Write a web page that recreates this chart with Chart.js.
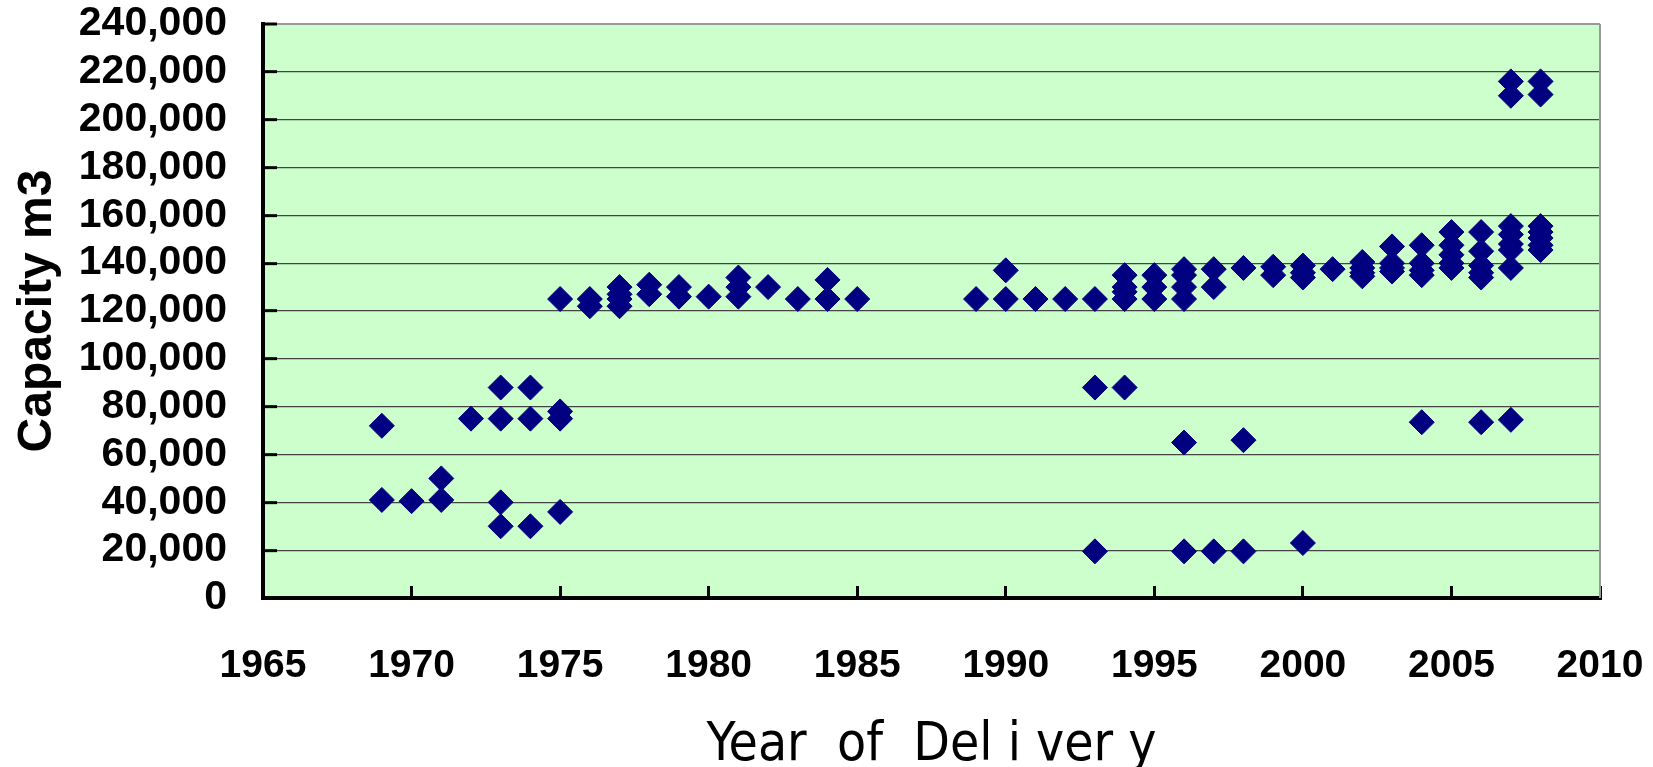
<!DOCTYPE html>
<html>
<head>
<meta charset="utf-8">
<title>Capacity m3 by Year of Delivery</title>
<script src="https://cdn.jsdelivr.net/npm/chart.js@4.4.1/dist/chart.umd.min.js"></script>
<style>
  html,body{margin:0;padding:0;background:#fff;}
  #wrap{width:1653px;height:767px;position:relative;}
</style>
</head>
<body>
<div id="wrap"><canvas id="capChart"></canvas></div>
<script>
// ===============================
// DATA
// ===============================
const deliveryYear = [
  1969,1969, 1970, 1971,1971, 1972,
  1973,1973,1973,1973, 1974,1974,1974,
  1975,1975,1975,1975, 1976,1976,
  1977,1977,1977,1977, 1978,1978, 1979,1979, 1980,
  1981,1981,1981, 1982, 1983, 1984,1984, 1985,
  1989, 1990,1990, 1991, 1992, 1993,1993,1993,
  1994,1994,1994,1994,1994, 1995,1995,1995,
  1996,1996,1996,1996,1996,1996, 1997,1997,1997,
  1998,1998,1998, 1999,1999, 2000,2000,2000,2000, 2001,
  2002,2002,2002,2002, 2003,2003,2003,2003,
  2004,2004,2004,2004,2004, 2005,2005,2005,2005,2005,
  2006,2006,2006,2006,2006,2006,
  2007,2007,2007,2007,2007,2007,2007,2007,
  2008,2008,2008,2008,2008,2008,2008
];
const capacityM3 = [
  72000,41000, 40500, 50000,41000, 75000,
  88000,75000,40000,30000, 88000,75000,30000,
  125000,78000,75000,36000, 125000,122000,
  130000,127000,125000,122000, 131000,127000, 130000,126000, 126000,
  134000,130000,126000, 130000, 125000, 133000,125000, 125000,
  125000, 137000,125000, 125000, 125000, 125000,88000,19500,
  135000,130000,128000,125000,88000, 135000,130000,125000,
  137500,135000,130000,125000,65000,19500, 137500,130000,19500,
  138000,66000,19500, 138500,135000, 139000,136000,134000,23000, 137500,
  140500,138000,136000,134500, 147000,140000,138000,136500,
  147500,140000,137000,135000,73500, 153000,147500,143500,140000,138000,
  153000,145000,139000,136000,134000,73500,
  216000,210000,155500,152000,148000,145500,138000,74500,
  216000,210500,155500,153000,150500,147500,145500
];

const X_MIN = 1965, X_MAX = 2010, X_STEP = 5;
const Y_MIN = 0, Y_MAX = 240000, Y_STEP = 20000;

const points = deliveryYear.map((yr, i) => ({ x: yr, y: capacityM3[i] }));

// ===============================
// plot background + grey frame
// ===============================
const plotFrame = {
  id: 'plotFrame',
  beforeDraw(chart){
    const {ctx, chartArea: a} = chart;
    ctx.save();
    ctx.fillStyle = '#CCFFCC';
    ctx.fillRect(a.left, a.top, a.right - a.left, a.bottom - a.top);
    ctx.restore();
  },
  beforeDatasetsDraw(chart){
    const {ctx, chartArea: a} = chart;
    ctx.save();
    ctx.strokeStyle = '#999';
    ctx.lineWidth = 2;
    ctx.beginPath();
    ctx.moveTo(a.right, a.top);
    ctx.lineTo(a.right, a.bottom);
    ctx.stroke();
    ctx.restore();
  }
};

const FONT = "'Liberation Sans', Arial, sans-serif";

new Chart(document.getElementById('capChart'), {
  type: 'scatter',
  data: {
    datasets: [{
      data: points,
      pointStyle: 'rectRot',
      pointRadius: 12.5,
      pointHoverRadius: 12.5,
      backgroundColor: '#000080',
      borderColor: '#000080',
      borderWidth: 1
    }]
  },
  plugins: [plotFrame],
  options: {
    responsive: true,
    maintainAspectRatio: false,
    animation: false,
    layout: { autoPadding: false, padding: { top: 24, right: 53, left: 0, bottom: 0 } },
    plugins: {
      legend: { display: false },
      tooltip: { enabled: false }
    },
    scales: {
      x: {
        type: 'linear',
        min: X_MIN,
        max: X_MAX,
        // fixed box, no label overflow padding
        afterFit: s => { s.height = 169; s.paddingLeft = 0; s.paddingRight = 0; },
        border: { color: '#000', width: 4 },
        grid: {
          drawOnChartArea: false,
          drawTicks: true,
          tickLength: -12,
          tickColor: '#000',
          tickWidth: 3
        },
        ticks: {
          stepSize: X_STEP,
          autoSkip: false,
          color: '#000',
          padding: 57,
          maxRotation: 0,
          font: { family: FONT, size: 39, weight: 'bold' },
          callback: v => String(v)
        },
        title: {
          display: true,
          text: 'Year  of  Del i ver y',
          color: '#000',
          padding: { top: 0, bottom: 0 },
          font: { family: "'Liberation Sans Narrow', 'DejaVu Sans Condensed', sans-serif", size: 53, lineHeight: 0.8 }
        }
      },
      y: {
        min: Y_MIN,
        max: Y_MAX,
        afterFit: s => { s.width = 263; s.paddingTop = 0; s.paddingBottom = 0; },
        border: { color: '#000', width: 4 },
        grid: {
          color: c => (c.tick && c.tick.value === Y_MAX) ? '#999' : '#444',
          lineWidth: c => (c.tick && c.tick.value === Y_MAX) ? 2 : 1.3,
          drawTicks: true,
          tickLength: -14,
          tickColor: '#000',
          tickWidth: 3
        },
        ticks: {
          stepSize: Y_STEP,
          autoSkip: false,
          color: '#000',
          padding: 50,
          font: { family: FONT, size: 41, weight: 'bold', lineHeight: 1 },
          callback: v => v.toLocaleString('en-US')
        },
        title: {
          display: true,
          text: 'Capacity m3',
          color: '#000',
          padding: { top: 9, bottom: 0 },
          font: { family: FONT, size: 48, weight: 'bold', lineHeight: 1.2 }
        }
      }
    }
  }
});
</script>
</body>
</html>
